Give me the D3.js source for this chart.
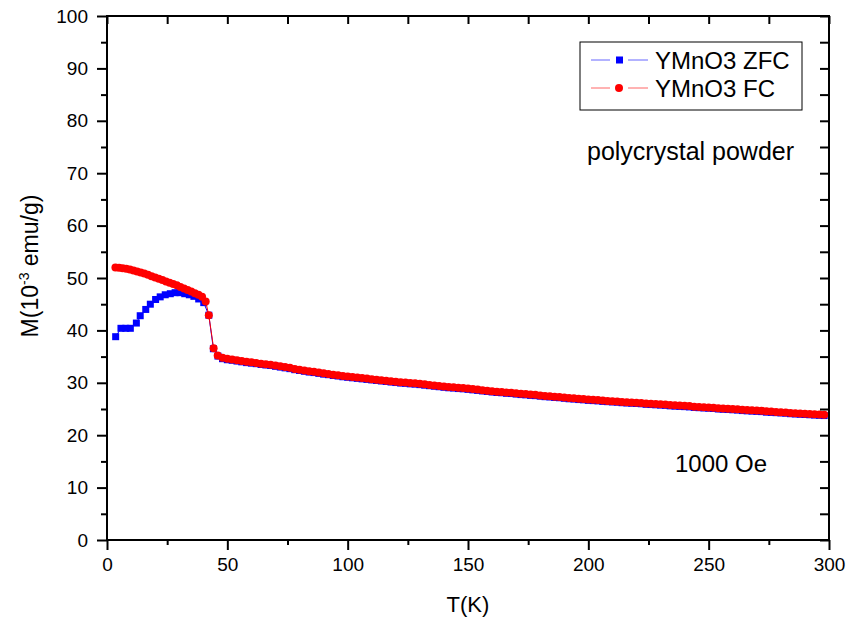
<!DOCTYPE html>
<meta charset="utf-8">
<style>
  body { margin: 0; background: #fff; }
  text { font-family: "Liberation Sans", Arial, sans-serif; }
</style>
<body>
<svg width="853" height="620"></svg>
<script src="https://d3js.org/d3.v7.min.js"></script>
<script>

// ZFC, low temperature part (blue squares)
var zfcLowT = [3.6, 5.8, 7.8, 9.7, 12.2, 13.8, 16.1, 18.0, 20.2, 22.1, 24.2, 26.3, 28.3, 30.3, 32.3, 34.2, 36.1, 38.1, 40.2, 42.3, 44.2, 46.1];
var zfcLowM = [38.8, 40.4, 40.4, 40.4, 41.4, 42.8, 44.0, 45.0, 45.9, 46.4, 46.8, 47.0, 47.2, 47.2, 47.0, 46.8, 46.5, 46.0, 45.3, 42.9, 36.5, 35.1];

// FC, low temperature part (red circles)
var fcLowT = [3.5, 5, 6.5, 8, 9.5, 11, 12.5, 14, 15.5, 17, 18.5, 20, 21.5, 23, 24.5, 26, 27.5, 29, 30.5, 32, 33.5, 35, 36.5, 38, 39.5, 41, 42.3, 44.3, 46];
var fcLowM = [52.0, 51.95, 51.85, 51.75, 51.6, 51.45, 51.25, 51.05, 50.85, 50.6, 50.35, 50.1, 49.85, 49.6, 49.35, 49.1, 48.85, 48.6, 48.3, 48.0, 47.7, 47.4, 47.1, 46.8, 46.4, 45.5, 42.9, 36.6, 35.2];

// above ~46 K both curves lie almost on top of each other
var highT = [
  48, 50, 52, 54, 56, 58, 60, 62, 64, 66,
  68, 70, 72, 74, 76, 78, 80, 82, 84, 86,
  88, 90, 92, 94, 96, 98, 100, 102, 104, 106,
  108, 110, 112, 114, 116, 118, 120, 122, 124, 126,
  128, 130, 132, 134, 136, 138, 140, 142, 144, 146,
  148, 150, 152, 154, 156, 158, 160, 162, 164, 166,
  168, 170, 172, 174, 176, 178, 180, 182, 184, 186,
  188, 190, 192, 194, 196, 198, 200, 202, 204, 206,
  208, 210, 212, 214, 216, 218, 220, 222, 224, 226,
  228, 230, 232, 234, 236, 238, 240, 242, 244, 246,
  248, 250, 252, 254, 256, 258, 260, 262, 264, 266,
  268, 270, 272, 274, 276, 278, 280, 282, 284, 286,
  288, 290, 292, 294, 296, 298];
var fcHighM = [
  34.8, 34.6, 34.45, 34.3, 34.15, 34.0, 33.9, 33.8, 33.65, 33.55,
  33.45, 33.3, 33.15, 33.0, 32.85, 32.65, 32.5, 32.35, 32.2, 32.1,
  31.95, 31.8, 31.7, 31.55, 31.45, 31.3, 31.2, 31.1, 31.0, 30.9,
  30.8, 30.7, 30.6, 30.5, 30.4, 30.3, 30.2, 30.1, 30.05, 29.95,
  29.9, 29.8, 29.7, 29.6, 29.5, 29.4, 29.3, 29.2, 29.15, 29.05,
  29.0, 28.9, 28.8, 28.7, 28.6, 28.5, 28.4, 28.3, 28.25, 28.15,
  28.1, 28.0, 27.9, 27.85, 27.75, 27.7, 27.6, 27.5, 27.45, 27.35,
  27.3, 27.2, 27.1, 27.05, 26.95, 26.9, 26.8, 26.75, 26.7, 26.6,
  26.55, 26.5, 26.45, 26.35, 26.3, 26.25, 26.2, 26.15, 26.05, 26.0,
  25.95, 25.9, 25.85, 25.75, 25.7, 25.65, 25.6, 25.55, 25.45, 25.4,
  25.35, 25.3, 25.25, 25.15, 25.1, 25.05, 25.0, 24.95, 24.85, 24.8,
  24.75, 24.7, 24.65, 24.55, 24.5, 24.45, 24.4, 24.35, 24.25, 24.2,
  24.15, 24.1, 24.05, 24.0, 23.95, 23.9];
var zfcHighM = [
  34.6, 34.4, 34.3, 34.15, 34.0, 33.85, 33.75, 33.65, 33.5, 33.4,
  33.3, 33.15, 33.0, 32.85, 32.7, 32.5, 32.35, 32.2, 32.05, 31.95,
  31.8, 31.65, 31.55, 31.4, 31.3, 31.15, 31.05, 30.95, 30.85, 30.75,
  30.65, 30.55, 30.45, 30.35, 30.25, 30.15, 30.05, 29.95, 29.9, 29.8,
  29.75, 29.65, 29.55, 29.45, 29.35, 29.25, 29.15, 29.05, 29.0, 28.9,
  28.85, 28.75, 28.65, 28.55, 28.45, 28.35, 28.25, 28.15, 28.1, 28.0,
  27.95, 27.85, 27.75, 27.7, 27.6, 27.55, 27.45, 27.35, 27.3, 27.2,
  27.15, 27.05, 26.95, 26.9, 26.8, 26.75, 26.65, 26.6, 26.55, 26.45,
  26.4, 26.35, 26.3, 26.2, 26.15, 26.1, 26.05, 26.0, 25.9, 25.85,
  25.8, 25.75, 25.7, 25.6, 25.55, 25.5, 25.45, 25.4, 25.3, 25.25,
  25.2, 25.15, 25.1, 25.0, 24.95, 24.9, 24.85, 24.8, 24.7, 24.65,
  24.6, 24.55, 24.5, 24.4, 24.35, 24.3, 24.25, 24.2, 24.1, 24.05,
  24.0, 23.95, 23.9, 23.85, 23.8, 23.75];

var xTicks = [0, 50, 100, 150, 200, 250, 300];
var xMinor = [25, 75, 125, 175, 225, 275];
var yTicks = [0, 10, 20, 30, 40, 50, 60, 70, 80, 90, 100];
var yMinor = [5, 15, 25, 35, 45, 55, 65, 75, 85, 95];

var svg = d3.select("svg");
var plotL = 107, plotR = 829, plotT = 16, plotB = 540;

var x = d3.scaleLinear().domain([0, 300]).range([plotL, plotR]);
var y = d3.scaleLinear().domain([0, 100]).range([plotB, plotT]);

// build the point lists from the arrays
var zfc = zfcLowT.map(function(t, i) { return [t, zfcLowM[i]]; })
  .concat(highT.map(function(t, i) { return [t, zfcHighM[i]]; }));
var fc = fcLowT.map(function(t, i) { return [t, fcLowM[i]]; })
  .concat(highT.map(function(t, i) { return [t, fcHighM[i]]; }));

var line = d3.line().x(function(d) { return x(d[0]); }).y(function(d) { return y(d[1]); });

// ZFC
svg.append("path").datum(zfc)
  .attr("d", line).attr("fill", "none").attr("stroke", "#0000ff").attr("stroke-width", 1);
svg.append("g").selectAll("rect").data(zfc).enter().append("rect")
  .attr("x", function(d) { return x(d[0]) - 3.5; })
  .attr("y", function(d) { return y(d[1]) - 3.5; })
  .attr("width", 7).attr("height", 7)
  .attr("fill", "#0000ff");

// FC
svg.append("path").datum(fc)
  .attr("d", line).attr("fill", "none").attr("stroke", "#ff0000").attr("stroke-width", 1);
svg.append("g").selectAll("circle").data(fc).enter().append("circle")
  .attr("cx", function(d) { return x(d[0]); })
  .attr("cy", function(d) { return y(d[1]); })
  .attr("r", 4)
  .attr("fill", "#ff0000");

// axes
function styleAxis(g) {
  g.select(".domain").remove();
  g.selectAll("line").attr("stroke", "#000").attr("stroke-width", 2);
  g.selectAll("text").attr("font-size", 19).attr("fill", "#000")
    .attr("font-family", "Liberation Sans, Arial, sans-serif");
}

svg.append("g").attr("transform", "translate(0," + plotB + ")")
  .call(d3.axisBottom(x).tickValues(xTicks).tickSize(10).tickPadding(8).tickFormat(d3.format("d")))
  .call(styleAxis);
svg.append("g").attr("transform", "translate(0," + plotB + ")")
  .call(d3.axisBottom(x).tickValues(xMinor).tickSize(5).tickFormat(""))
  .call(styleAxis);
svg.append("g").attr("transform", "translate(0," + plotT + ")")
  .call(d3.axisBottom(x).tickValues(xTicks.concat(xMinor)).tickSize(8).tickFormat(""))
  .call(styleAxis);

svg.append("g").attr("transform", "translate(" + plotL + ",0)")
  .call(d3.axisLeft(y).tickValues(yTicks).tickSize(10).tickPadding(9).tickFormat(d3.format("d")))
  .call(styleAxis);
svg.append("g").attr("transform", "translate(" + plotL + ",0)")
  .call(d3.axisLeft(y).tickValues(yMinor).tickSize(6).tickFormat(""))
  .call(styleAxis);
svg.append("g").attr("transform", "translate(" + plotR + ",0)")
  .call(d3.axisLeft(y).tickValues(yTicks.concat(yMinor)).tickSize(9).tickFormat(""))
  .call(styleAxis);

// frame
svg.append("rect")
  .attr("x", plotL).attr("y", plotT)
  .attr("width", plotR - plotL).attr("height", plotB - plotT)
  .attr("fill", "none").attr("stroke", "#000").attr("stroke-width", 2);

// axis titles
svg.append("text")
  .attr("x", (plotL + plotR) / 2).attr("y", 612)
  .attr("text-anchor", "middle").attr("font-size", 22)
  .text("T(K)");

var yl = svg.append("text")
  .attr("transform", "translate(38,266) rotate(-90)")
  .attr("text-anchor", "middle").attr("font-size", 23);
yl.append("tspan").text("M(10");
yl.append("tspan").attr("font-size", 14).attr("dy", -9).text("-3");
yl.append("tspan").attr("dy", 9).text(" emu/g)");

// annotations
svg.append("text").attr("x", 587).attr("y", 160).attr("font-size", 25).text("polycrystal powder");
svg.append("text").attr("x", 675).attr("y", 472).attr("font-size", 24).text("1000 Oe");

// legend
var legend = svg.append("g");
legend.append("rect")
  .attr("x", 580).attr("y", 42).attr("width", 222).attr("height", 68)
  .attr("fill", "#fff").attr("stroke", "#000").attr("stroke-width", 1);

var legItems = [
  { label: "YMnO3 ZFC", color: "#0000ff", shape: "square", yy: 60 },
  { label: "YMnO3 FC", color: "#ff0000", shape: "circle", yy: 88 }
];
legItems.forEach(function(d) {
  legend.append("line").attr("x1", 591).attr("x2", 610).attr("y1", d.yy).attr("y2", d.yy)
    .attr("stroke", d.color).attr("stroke-opacity", 0.6);
  legend.append("line").attr("x1", 628).attr("x2", 648).attr("y1", d.yy).attr("y2", d.yy)
    .attr("stroke", d.color).attr("stroke-opacity", 0.6);
  if (d.shape == "square") {
    legend.append("rect").attr("x", 616).attr("y", d.yy - 3.5).attr("width", 7).attr("height", 7).attr("fill", d.color);
  } else {
    legend.append("circle").attr("cx", 619).attr("cy", d.yy).attr("r", 4).attr("fill", d.color);
  }
  legend.append("text").attr("x", 655).attr("y", d.yy + 9).attr("font-size", 24).text(d.label);
});

</script>
</body>
